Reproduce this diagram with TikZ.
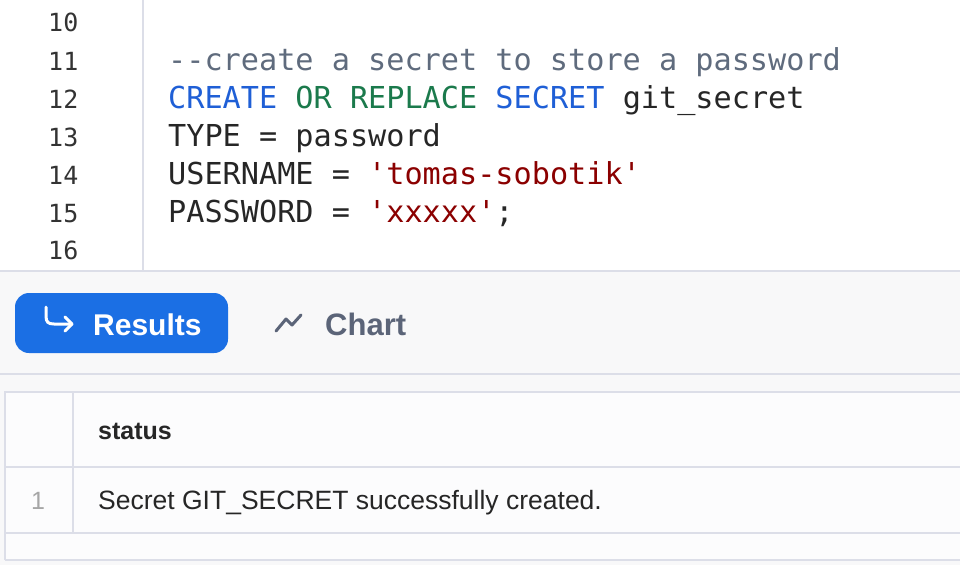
\documentclass[tikz,border=0pt]{standalone}
\usepackage{fontspec}
\setmainfont{Liberation Sans}
\setmonofont{DejaVu Sans Mono}
\begin{document}
\begin{tikzpicture}[x=1pt,y=-1pt,
  code/.style={anchor=base west,inner sep=0pt,font=\ttfamily\fontsize{30.2}{32}\selectfont,text=black!85},
  num/.style={anchor=base west,inner sep=0pt,font=\ttfamily\fontsize{25}{26}\selectfont,text=black!80},
  sep/.style={draw=sepc,line width=1.2pt}]
\definecolor{kwblue}{HTML}{1F5FD6}
\definecolor{kwgreen}{HTML}{1B7A4C}
\definecolor{strred}{HTML}{8B0000}
\definecolor{cmt}{HTML}{5F6B7D}
\definecolor{btn}{HTML}{1B6FE4}
\definecolor{chartc}{HTML}{5B6478}
\definecolor{bg}{HTML}{F8F8F9}
\definecolor{sepc}{HTML}{DCDEE8}
\path[use as bounding box,fill=white] (0,0) rectangle (960,565);
\fill[bg] (0,271) rectangle (960,565);
\draw[sep] (143,0) -- (143,270);
\draw[sep] (0,271) -- (960,271);
% line numbers
\foreach \n/\y in {10/31,11/70,12/108,13/146,14/184,15/222,16/259}
  \node[num] (n\n) at (48,\y) {\n};
\node[code,text=cmt] (c11) at (168,70) {--create a secret to store a password};
\node[code] (c12) at (168,108) {\textcolor{kwblue}{CREATE} \textcolor{kwgreen}{OR REPLACE} \textcolor{kwblue}{SECRET} git\_secret};
\node[code] (c13) at (168,146) {TYPE = password};
\node[code] (c14) at (168,184) {USERNAME = \textcolor{strred}{'tomas-sobotik'}};
\node[code] (c15) at (168,222) {PASSWORD = \textcolor{strred}{'xxxxx'};};
% Results button
\fill[btn,rounded corners=14pt] (15,293) rectangle (228,353);
\draw[white,line width=3pt,line cap=round,line join=round] (46,307) -- (46,316) .. controls (46,322) and (48,324) .. (54,324) -- (72,324);
\draw[white,line width=3pt,line cap=round,line join=round] (65,317) -- (72,324) -- (65,331);
\node[anchor=base west,inner sep=0pt,font=\bfseries\fontsize{30}{32}\selectfont,text=white] (res) at (93,335) {Results};
% Chart
\draw[chartc,line width=3pt,line cap=round,line join=round] (276,331) -- (286,319) -- (292,325) -- (301,315);
\node[anchor=base west,inner sep=0pt,font=\bfseries\fontsize{31}{33}\selectfont,text=chartc] (chart) at (325,335) {Chart};
\draw[sep] (0,374) -- (960,374);
% table
\fill[white!60!bg] (5,392) rectangle (960,560);
\draw[sep] (5,560) -- (5,392) -- (960,392);
\draw[sep] (5,560) -- (960,560);
\draw[sep] (5,467) -- (960,467);
\draw[sep] (5,533) -- (960,533);
\draw[sep] (73,392) -- (73,533);
\node[anchor=base west,inner sep=0pt,font=\bfseries\fontsize{25}{27}\selectfont,text=black!85] (hdr) at (98,439) {status};
\node[anchor=base west,inner sep=0pt,font=\fontsize{25}{27}\selectfont,text=gray!70] (r1) at (31,509) {1};
\node[anchor=base west,inner sep=0pt,font=\fontsize{26.5}{28}\selectfont,text=black!85] (v1) at (98,509) {Secret GIT\_SECRET successfully created.};
\end{tikzpicture}
\end{document}
